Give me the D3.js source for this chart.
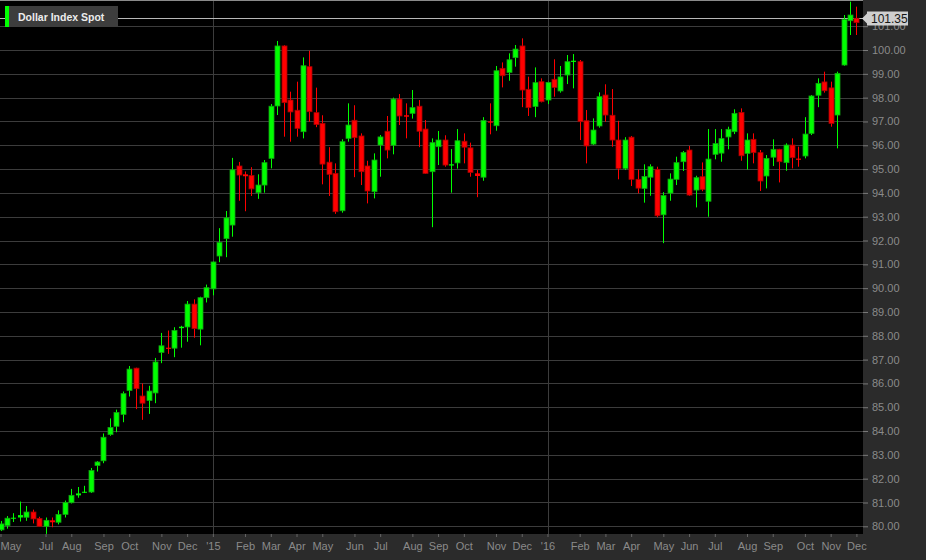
<!DOCTYPE html>
<html>
<head>
<meta charset="utf-8">
<script src="https://cdn.jsdelivr.net/npm/d3@7"></script>
<style>
  html, body { margin: 0; padding: 0; background: #2b2b2b; }
  svg { display: block; font-family: "Liberation Sans", Arial, sans-serif; }
</style>
</head>
<body>
<svg id="chart" width="926" height="560"></svg>
<script>
// ---- Data: weekly candles (week ending Friday) ----
const weeks = [
"2014-05-16","2014-05-23","2014-05-30","2014-06-06","2014-06-13","2014-06-20","2014-06-27",
"2014-07-04","2014-07-11","2014-07-18","2014-07-25","2014-08-01","2014-08-08","2014-08-15","2014-08-22","2014-08-29",
"2014-09-05","2014-09-12","2014-09-19","2014-09-26","2014-10-03","2014-10-10","2014-10-17","2014-10-24","2014-10-31",
"2014-11-07","2014-11-14","2014-11-21","2014-11-28","2014-12-05","2014-12-12","2014-12-19","2014-12-26",
"2015-01-02","2015-01-09","2015-01-16","2015-01-23","2015-01-30","2015-02-06","2015-02-13","2015-02-20","2015-02-27",
"2015-03-06","2015-03-13","2015-03-20","2015-03-27","2015-04-03","2015-04-10","2015-04-17","2015-04-24",
"2015-05-01","2015-05-08","2015-05-15","2015-05-22","2015-05-29","2015-06-05","2015-06-12","2015-06-19","2015-06-26",
"2015-07-03","2015-07-10","2015-07-17","2015-07-24","2015-07-31","2015-08-07","2015-08-14","2015-08-21","2015-08-28",
"2015-09-04","2015-09-11","2015-09-18","2015-09-25","2015-10-02","2015-10-09","2015-10-16","2015-10-23","2015-10-30",
"2015-11-06","2015-11-13","2015-11-20","2015-11-27","2015-12-04","2015-12-11","2015-12-18","2015-12-25",
"2016-01-01","2016-01-08","2016-01-15","2016-01-22","2016-01-29","2016-02-05","2016-02-12","2016-02-19","2016-02-26",
"2016-03-04","2016-03-11","2016-03-18","2016-03-25","2016-04-01","2016-04-08","2016-04-15","2016-04-22","2016-04-29",
"2016-05-06","2016-05-13","2016-05-20","2016-05-27","2016-06-03","2016-06-10","2016-06-17","2016-06-24",
"2016-07-01","2016-07-08","2016-07-15","2016-07-22","2016-07-29","2016-08-05","2016-08-12","2016-08-19","2016-08-26",
"2016-09-02","2016-09-09","2016-09-16","2016-09-23","2016-09-30","2016-10-07","2016-10-14","2016-10-21","2016-10-28",
"2016-11-04","2016-11-11","2016-11-18","2016-11-25","2016-12-02"
];

const open = [
79.85,80.03,80.32,80.37,80.38,80.60,80.33,80.00,80.25,80.17,80.50,80.99,81.30,81.41,81.44,82.55,
82.75,83.85,84.20,84.70,85.70,86.64,85.47,85.28,85.60,87.30,87.50,87.48,88.32,88.37,89.33,88.28,89.60,
89.97,91.35,92.08,92.65,95.13,94.78,94.73,94.01,94.33,95.45,97.65,100.17,97.90,97.47,96.57,99.30,97.37,
96.92,95.29,94.82,93.25,96.29,97.05,96.39,95.13,94.05,96.01,96.59,96.00,97.94,97.26,97.34,97.64,96.68,94.89,
95.94,96.22,95.15,95.26,96.17,95.89,94.82,94.66,97.00,96.82,99.23,99.06,99.68,100.17,98.35,97.63,98.67,
97.90,98.77,98.28,98.95,99.50,99.51,97.03,96.05,96.81,98.11,97.26,96.22,95.03,96.34,94.57,94.19,94.66,94.99,
93.08,93.99,94.57,95.31,95.80,94.12,94.68,93.65,95.62,95.67,96.35,96.57,97.38,95.66,96.25,95.69,94.71,
95.50,95.83,95.27,96.01,95.44,95.55,96.50,98.10,98.66,98.41,97.27,99.37,101.23,101.33
];
const high = [
80.22,80.43,80.55,81.04,80.85,80.70,80.40,80.37,80.37,80.67,81.08,81.57,81.65,81.70,82.45,82.74,
83.90,84.53,84.90,85.66,86.73,86.66,86.00,85.90,87.07,88.12,88.22,88.36,88.42,89.46,89.53,89.64,90.15,
91.12,92.52,93.24,95.47,95.30,94.90,95.08,94.78,95.38,97.73,100.38,100.20,98.25,98.67,99.69,99.97,98.42,
97.26,95.92,95.24,96.25,97.76,97.68,96.50,95.35,95.66,96.43,97.23,98.00,98.15,97.76,98.32,97.90,97.06,96.29,
96.60,96.42,95.84,96.68,96.50,96.11,94.96,97.18,97.76,99.33,99.48,99.86,100.21,100.49,98.88,99.27,98.81,
98.67,99.61,99.33,99.79,99.83,99.58,97.48,97.13,98.22,98.56,98.36,97.03,96.34,96.39,94.98,95.20,95.20,95.10,
94.03,94.82,95.52,95.76,95.97,94.72,95.28,96.68,96.68,96.68,96.78,97.51,97.55,96.50,96.50,95.80,95.59,
96.25,95.85,96.08,96.29,95.94,97.18,98.11,98.81,99.09,98.67,99.09,101.47,102.03,101.82
];
const low = [
79.80,79.90,80.18,80.20,80.23,80.12,79.98,79.68,79.96,80.08,80.37,80.96,81.20,81.40,81.40,82.30,
82.65,83.80,83.95,84.37,85.45,84.92,84.47,84.72,85.17,86.85,87.24,87.10,87.50,87.75,87.92,87.60,89.40,
89.70,91.09,91.30,92.16,93.67,93.23,93.87,93.75,94.01,95.03,97.27,96.36,96.15,96.36,96.29,96.99,96.76,
94.36,93.87,93.12,93.17,96.15,94.66,94.33,93.56,93.77,94.68,95.45,95.62,96.85,96.29,97.12,95.92,94.80,92.56,
95.17,95.10,94.01,95.02,95.24,94.68,93.82,94.51,96.46,96.61,98.43,98.71,99.30,97.60,97.23,97.18,97.80,
97.73,98.04,98.21,98.57,98.39,96.22,95.24,96.01,96.74,96.99,95.94,94.57,94.96,94.29,93.98,93.59,93.88,92.98,
91.89,93.67,94.33,94.92,93.88,93.39,94.07,93.00,95.41,95.31,95.83,96.47,95.35,94.98,95.24,94.08,94.19,
95.13,94.44,94.93,95.03,95.10,95.45,96.43,97.60,98.21,96.78,95.87,99.34,100.63,100.63
];
const close = [
80.10,80.34,80.36,80.47,80.60,80.31,80.00,80.25,80.17,80.50,81.00,81.30,81.38,81.45,82.34,82.70,
83.74,84.15,84.78,85.57,86.60,85.78,85.17,85.68,86.90,87.58,87.45,88.22,88.38,89.33,88.30,89.60,90.02,
91.10,91.92,92.95,94.97,94.75,94.70,94.17,94.33,95.27,97.64,100.17,97.79,97.40,96.71,99.34,97.41,96.87,
95.21,94.78,93.21,96.15,96.85,96.32,94.89,94.08,95.38,96.35,95.80,97.94,97.23,97.20,97.58,96.59,94.82,96.11,
96.22,95.17,95.20,96.19,95.92,94.86,94.71,97.04,96.95,99.13,98.92,99.59,100.04,98.32,97.58,98.63,97.83,
98.64,98.43,98.87,99.51,99.55,96.99,95.97,96.64,98.04,97.27,96.22,95.03,96.22,94.57,94.20,94.69,95.10,93.04,
93.89,94.58,95.27,95.70,93.91,94.64,94.15,95.42,96.07,96.28,96.67,97.34,95.56,96.22,95.69,94.50,95.45,
95.83,95.31,96.01,95.48,95.39,96.47,98.07,98.60,98.29,96.92,99.02,101.29,101.47,101.15
];

const lastPrice = 101.35;
const seriesName = "Dollar Index Spot";

// Axis ticks
const yTicks = [80,81,82,83,84,85,86,87,88,89,90,91,92,93,94,95,96,97,98,99,100,101];
const tickDates = [
"2014-05-16","2014-07-04","2014-08-01","2014-09-05","2014-10-03","2014-11-07","2014-12-05",
"2015-01-02","2015-02-06","2015-03-06","2015-04-03","2015-05-01","2015-06-05","2015-07-03","2015-08-07","2015-09-04","2015-10-02","2015-11-06","2015-12-04",
"2016-01-01","2016-02-05","2016-03-04","2016-04-01","2016-05-06","2016-06-03","2016-07-01","2016-08-05","2016-09-02","2016-10-07","2016-11-04","2016-12-02"
];
const tickLabels = [
"May","Jul","Aug","Sep","Oct","Nov","Dec",
"'15","Feb","Mar","Apr","May","Jun","Jul","Aug","Sep","Oct","Nov","Dec",
"'16","Feb","Mar","Apr","May","Jun","Jul","Aug","Sep","Oct","Nov","Dec"
];
const yearGridDates = ["2015-01-02","2016-01-01"];

// ---- Drawing ----
const W = 926, H = 560;
const plotW = 863, plotH = 534;
const parse = d3.timeParse("%Y-%m-%d");
const candles = weeks.map((w, i) => ({date: parse(w), o: open[i], h: high[i], l: low[i], c: close[i]}));

const x = d3.scaleTime()
  .domain([candles[0].date, candles[candles.length - 1].date])
  .range([0.5, 856.4]);
const y = d3.scaleLinear().domain([80, 101]).range([526.3, 26.2]);

const svg = d3.select("#chart");
svg.append("rect").attr("width", W).attr("height", H).attr("fill", "#2b2b2b");
svg.append("rect").attr("width", plotW).attr("height", plotH).attr("fill", "#000");

svg.append("clipPath").attr("id", "clip")
  .append("rect").attr("width", plotW).attr("height", plotH);

const plot = svg.append("g").attr("clip-path", "url(#clip)");

// grid
plot.append("g").selectAll("line").data(yTicks).join("line")
  .attr("x1", 0).attr("x2", plotW)
  .attr("y1", d => Math.round(y(d)) + 0.5).attr("y2", d => Math.round(y(d)) + 0.5)
  .attr("stroke", "#3c3c3c").attr("stroke-width", 1);
plot.append("g").selectAll("line").data(yearGridDates).join("line")
  .attr("x1", d => Math.round(x(parse(d))) + 0.5).attr("x2", d => Math.round(x(parse(d))) + 0.5)
  .attr("y1", 0).attr("y2", plotH)
  .attr("stroke", "#3c3c3c").attr("stroke-width", 1);

// top border & last price line
plot.append("line").attr("x1", 0).attr("x2", plotW).attr("y1", 0.5).attr("y2", 0.5)
  .attr("stroke", "#8a8a8a");
plot.append("line").attr("x1", 0).attr("x2", plotW)
  .attr("y1", Math.round(y(lastPrice)) + 0.5).attr("y2", Math.round(y(lastPrice)) + 0.5)
  .attr("stroke", "#b8b8b8");

// candles
const up = "#00ff00", upEdge = "#12a012", dn = "#ff0000", dnEdge = "#a80000";
const cg = plot.append("g");
const cs = cg.selectAll("g").data(candles).join("g");
cs.append("line")
  .attr("x1", d => Math.round(x(d.date)) + 0.5).attr("x2", d => Math.round(x(d.date)) + 0.5)
  .attr("y1", d => y(d.h)).attr("y2", d => y(d.l))
  .attr("stroke", d => d.c >= d.o ? up : dn).attr("stroke-width", 1);
cs.append("rect")
  .attr("x", d => Math.round(x(d.date)) - 2)
  .attr("width", 5)
  .attr("y", d => y(Math.max(d.o, d.c)))
  .attr("height", d => Math.max(1, Math.abs(y(d.o) - y(d.c))))
  .attr("fill", d => d.c >= d.o ? up : dn)
  .attr("stroke", d => Math.abs(y(d.o) - y(d.c)) > 3 ? (d.c >= d.o ? upEdge : dnEdge) : "none")
  .attr("stroke-width", 0.8);

// legend
const lg = svg.append("g");
lg.append("rect").attr("x", 5).attr("y", 6).attr("width", 113).attr("height", 21).attr("fill", "#3d3d3d");
lg.append("rect").attr("x", 5).attr("y", 6).attr("width", 4).attr("height", 21).attr("fill", up);
lg.append("text").attr("x", 18).attr("y", 20.5).attr("fill", "#ececec")
  .attr("font-size", 10.5).attr("font-weight", "bold").text(seriesName);

// right axis
const yAxis = svg.append("g").attr("transform", `translate(${plotW},0)`)
  .call(d3.axisRight(y).tickValues(yTicks).tickFormat(d3.format(".2f")).tickSize(5).tickPadding(4));
yAxis.select(".domain").remove();
yAxis.selectAll(".tick line").attr("stroke", "#7a7a7a");
yAxis.selectAll(".tick text").attr("fill", "#8a8a8a").attr("font-size", 11)
  .attr("font-family", "'Liberation Sans', Arial, sans-serif");

// bottom axis
const xAxis = svg.append("g").attr("transform", `translate(0,${plotH})`)
  .call(d3.axisBottom(x).tickValues(tickDates.map(parse)).tickFormat((d, i) => tickLabels[i]).tickSize(3));
xAxis.select(".domain").remove();
xAxis.selectAll(".tick line").attr("stroke", "#666");
xAxis.selectAll(".tick text").attr("fill", "#8a8a8a").attr("font-size", 11)
  .attr("font-family", "'Liberation Sans', Arial, sans-serif")
  .attr("y", 15.5).attr("dy", 0);
xAxis.selectAll(".tick").filter((d, i) => i === 0).select("text")
  .attr("text-anchor", "start").attr("x", -0.5);

// last price label
const py = Math.round(y(lastPrice)) + 0.5;
svg.append("path")
  .attr("d", `M${plotW - 1},${py} L${plotW + 4},${py - 5} L${plotW + 4},${py - 7} L${plotW + 45},${py - 7} L${plotW + 45},${py + 7} L${plotW + 4},${py + 7} L${plotW + 4},${py + 5} Z`)
  .attr("fill", "#cfcfcf");
svg.append("text").attr("x", plotW + 8).attr("y", py + 4.5)
  .attr("fill", "#161616").attr("font-size", 12).text(lastPrice.toFixed(2));
</script>
</body>
</html>
